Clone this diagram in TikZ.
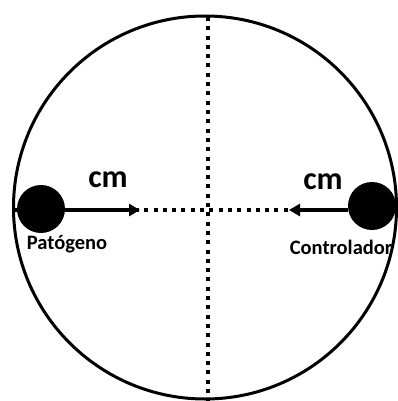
\documentclass[tikz,border=0pt]{standalone}
\usepackage{fontspec}
\setmainfont{Carlito}
\usetikzlibrary{arrows.meta}
\begin{document}
\begin{tikzpicture}[x=1pt,y=-1pt,
  dotline/.style={line width=3.8pt,dash pattern=on 4pt off 5.3pt},
  ball/.style={circle,fill=black,minimum size=48pt,inner sep=0pt},
  force/.style={line width=4pt,-{Triangle[length=11pt,width=12pt]}},
  lbl/.style={font=\bfseries\fontsize{20.5}{22}\selectfont,inner sep=0pt},
  cmlbl/.style={font=\bfseries\fontsize{32}{34}\selectfont,inner sep=0pt}]
\useasboundingbox (0,0) rectangle (398,401);
\node[circle,draw,line width=3pt,minimum size=383pt,inner sep=0pt] (big) at (205,207.5) {};
\coordinate (vtop) at (208,17);
\coordinate (vbot) at (208,404);
\coordinate (hleft) at (14,210);
\coordinate (hright) at (396,210);
\draw[dotline] (vtop) -- (vbot);
\draw[dotline] (hleft) -- (hright);
\node[ball] (pat) at (41,209) {};
\node[ball] (con) at (372,206) {};
\coordinate (ptip) at (140,210);
\coordinate (ctip) at (289,210);
\draw[force] (pat.east |- 0,210) -- (ptip);
\draw[force] (con.west |- 0,210) -- (ctip);
\node[cmlbl] (cm1) at (108,180) {cm};
\node[cmlbl] (cm2) at (323,182) {cm};
\node[lbl] (tp) at (67,244) {Patógeno};
\node[lbl] (tc) at (341,247) {Controlador};
\end{tikzpicture}
\end{document}
